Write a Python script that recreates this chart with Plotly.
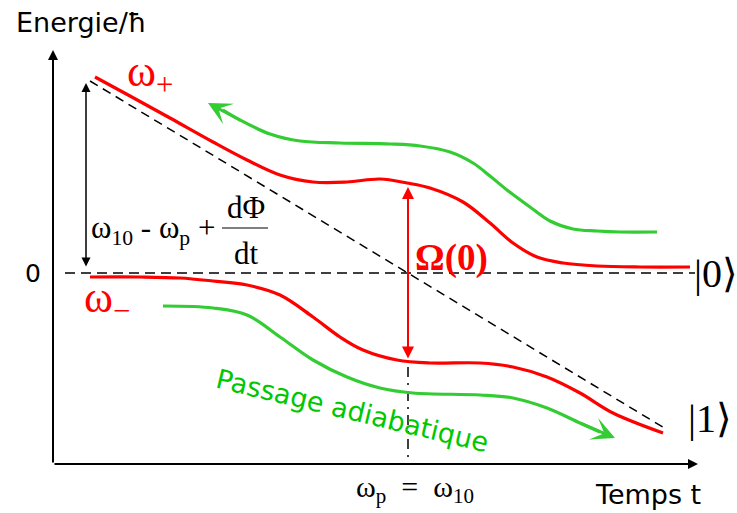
import plotly.graph_objects as go

# ---- data (time t, energy E/hbar in arbitrary units; E = 0 at the |0> level) ----
t_plus = [95, 130, 170, 213, 247, 280, 313, 347, 380, 407, 430, 463, 490, 513, 537, 563, 597, 640, 690]
E_plus = [196, 177, 155, 131, 113, 98, 91, 91, 94, 90, 85, 71, 50, 30, 16, 10, 7, 6, 6]

t_minus = [90, 140, 180, 213, 247, 280, 313, 340, 363, 397, 430, 480, 513, 547, 580, 613, 663]
E_minus = [-4, -4, -5, -8, -12, -22, -44, -64, -77, -87, -90, -90, -94, -104, -120, -140, -160]

# diabatic levels
t_level1 = [90, 666]
E_level1 = [192, -156]
t_level0 = [65, 695]
E_level0 = [0, 0]

# adiabatic passage paths (green), last point = arrow tip
t_path_up = [657, 620, 597, 573, 550, 530, 507, 490, 473, 450, 420, 390, 340, 300, 270, 240, 223, 208]
E_path_up = [41, 41, 42, 44, 52, 66, 83, 97, 110, 121, 127, 129, 130, 132, 139, 153, 163, 170]
t_path_down = [163, 213, 247, 280, 313, 347, 380, 413, 480, 513, 547, 580, 600, 615]
E_path_down = [-33, -35, -42, -64, -87, -104, -115, -120, -122, -125, -135, -150, -159, -165]

# resonance time and gaps
t_res = 408
E_rabi = [86, -87]          # Omega(0) arrow ends
t_detuning = 86
E_detuning = [190, 5]       # omega10 - omegap + dPhi/dt arrow ends
E_res_marker = [-94, -190]  # dash-dot marker below the crossing

# axes
t_axis = [53, 698]
E_axis = [-191, 223]

RED = "#ff0000"
GREEN = "#33cc33"
TEXTGREEN = "#00c800"
SERIF = "Liberation Serif, Times New Roman, serif"
HAND = "DejaVu Sans, sans-serif"

fig = go.Figure()

def line(x, y, color, width, dash="solid", shape="linear"):
    fig.add_trace(go.Scatter(x=x, y=y, mode="lines", hoverinfo="skip",
                             line=dict(color=color, width=width, dash=dash, shape=shape, smoothing=1.0)))

# dashed diabatic lines
line(t_level0, E_level0, "black", 1.5, dash="10px,6px")
line(t_level1, E_level1, "black", 1.5, dash="9px,6px")
# dash-dot resonance marker
line([t_res, t_res], E_res_marker, "black", 1.5, dash="10px,6px,2px,6px")

# adiabatic energies
line(t_plus, E_plus, RED, 3.2, shape="spline")
line(t_minus, E_minus, RED, 3.2, shape="spline")
# green passage paths (without the tip; tip drawn as arrow)
line(t_path_up[:-1], E_path_up[:-1], GREEN, 3.2, shape="spline")
line(t_path_down[:-1], E_path_down[:-1], GREEN, 3.2, shape="spline")

ann = []

def arrow(x, y, ax, ay, color, width, head, size, both=False):
    d = dict(x=x, y=y, ax=ax, ay=ay, xref="x", yref="y", axref="x", ayref="y",
             text="", showarrow=True, arrowcolor=color, arrowwidth=width,
             arrowhead=head, arrowsize=size, standoff=0, startstandoff=0)
    if both:
        d.update(arrowside="end+start", startarrowhead=head, startarrowsize=size)
    ann.append(d)

# axes
arrow(t_axis[0], E_axis[1], t_axis[0], E_axis[0], "black", 2, 2, 1.0)
arrow(t_axis[1], E_axis[0], t_axis[0], E_axis[0], "black", 2, 2, 1.0)
# green arrow tips
arrow(t_path_up[-1], E_path_up[-1], t_path_up[-3], E_path_up[-3], GREEN, 3, 3, 1.3)
arrow(t_path_down[-1], E_path_down[-1], t_path_down[-3], E_path_down[-3], GREEN, 3, 3, 1.3)
# Omega(0) gap
arrow(t_res, E_rabi[0], t_res, E_rabi[1], RED, 2, 2, 1.2, both=True)
# detuning
arrow(t_detuning, E_detuning[0], t_detuning, E_detuning[1], "black", 1.5, 2, 1.2, both=True)

def text(x, y, s, size, color="black", family=SERIF, xanchor="center", angle=0, xshift=0):
    ann.append(dict(x=x, y=y, xref="x", yref="y", text=s, showarrow=False,
                    xanchor=xanchor, yanchor="middle", textangle=angle, xshift=xshift,
                    font=dict(size=size, color=color, family=family)))

text(81, 251, "Energie/ħ", 27, family=HAND)
text(33, 0, "0", 25, family=HAND)
text(150, 199, "ω<sub>+</sub>", 44, color=RED)
text(107, -27, "ω<sub>−</sub>", 44, color=RED)
text(451, 15, "<b>Ω(0)</b>", 37, color=RED)
text(153, 43, "ω<sub>10</sub> - ω<sub>p</sub> +", 31)
text(246, 66, "dΦ", 31)
text(246, 20, "dt", 31)
text(737, 0, "|0⟩", 40, xanchor="right", xshift=3)
text(734, -145, "|1⟩", 40, xanchor="right")
text(415, -216, "ω<sub>p</sub>\u2002=\u2002ω<sub>10</sub>", 30)
text(648, -221, "Temps t", 27, family=HAND)
text(352, -137, "Passage adiabatique", 27, color=TEXTGREEN, family=HAND, angle=13.5)

fig.update_layout(
    annotations=ann,
    shapes=[dict(type="line", xref="x", yref="y", x0=222, x1=268, y0=45, y1=45,
                 line=dict(color="black", width=1.2))],
    width=737, height=513,
    margin=dict(l=0, r=0, t=0, b=0),
    paper_bgcolor="white", plot_bgcolor="white",
    showlegend=False,
    xaxis=dict(range=[0, 737], visible=False, fixedrange=True),
    yaxis=dict(range=[-240, 273], visible=False, fixedrange=True),
)

fig.write_html("out.html", config={"displayModeBar": False},
               post_script="document.body.style.margin='0';")
